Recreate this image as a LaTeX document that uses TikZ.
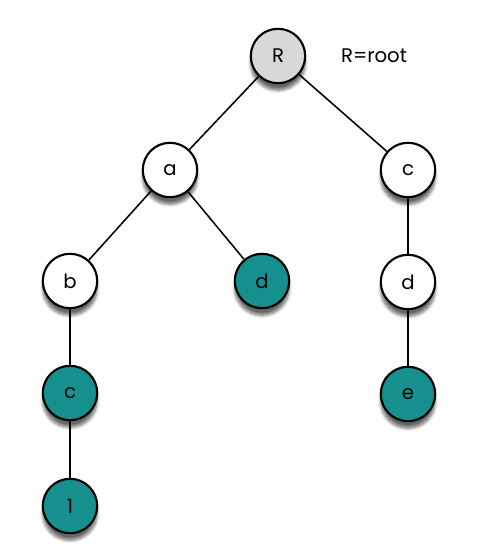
\documentclass[tikz,border=0pt]{standalone}
\usepackage{fontspec}
\setmainfont{Poppins}
\usetikzlibrary{shadows,shadows.blur}

\definecolor{leafteal}{RGB}{22,143,143}
\definecolor{rootgray}{RGB}{216,216,216}

\begin{document}
\begin{tikzpicture}[x=0.025cm, y=-0.025cm,
    treenode/.style={circle, draw=black, line width=1.5pt, fill=white,
        minimum size=1.36cm, inner sep=0pt, font=\fontsize{14}{16}\selectfont,
        blur shadow={shadow xshift=0pt, shadow yshift=-5pt, shadow blur steps=8, shadow opacity=60}},
    leaf/.style={treenode, fill=leafteal},
    rootnode/.style={treenode, fill=rootgray},
    edge/.style={line width=1.1pt}]

    % Canvas
    \useasboundingbox (0, 0) rectangle (486, 552);

    % Nodes
    \node[rootnode] (R) at (278, 56) {R};
    \node[treenode] (a) at (170, 170) {a};
    \node[treenode] (c1) at (408, 170) {c};
    \node[treenode] (b) at (70, 281) {b};
    \node[leaf] (d1) at (262, 281) {d};
    \node[treenode] (d2) at (408, 282) {d};
    \node[leaf] (c2) at (70, 393) {c};
    \node[leaf] (e) at (408, 394) {e};
    \node[leaf] (one) at (70, 506) {1};

    % Legend
    \node[font=\fontsize{14}{16}\selectfont] (legend) at (374, 56) {R=root};

    % Edges
    \draw[edge] (R) -- (a);
    \draw[edge] (R) -- (c1);
    \draw[edge] (a) -- (b);
    \draw[edge] (a) -- (d1);
    \draw[edge] (b) -- (c2);
    \draw[edge] (c2) -- (one);
    \draw[edge] (c1) -- (d2);
    \draw[edge] (d2) -- (e);

\end{tikzpicture}
\end{document}
